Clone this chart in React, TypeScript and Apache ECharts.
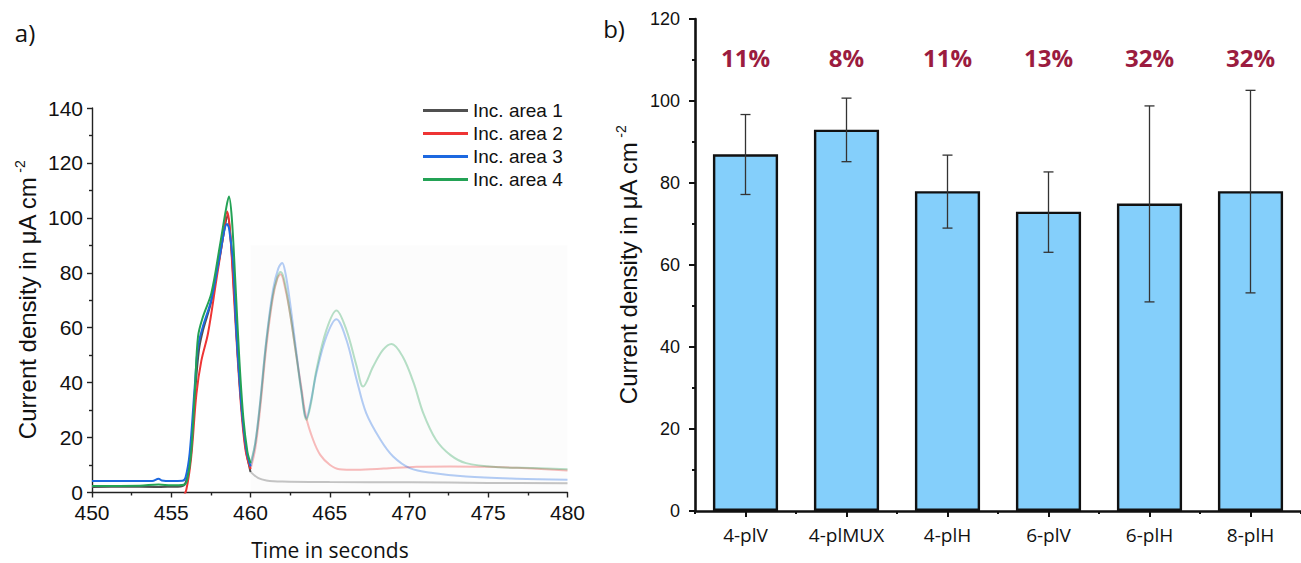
import React, { useEffect, useRef } from "react";
import * as echarts from "echarts";

// ---------- Panel a) : transients ----------
const seriesNames = ["Inc. area 1", "Inc. area 2", "Inc. area 3", "Inc. area 4"];
const lineColors = ["#505050", "#ee3434", "#1c68e0", "#23a255"];

const area1Main: number[][] = [
  [450, 2.0], [452, 2.1], [454, 2.0], [455, 2.1], [455.6, 2.2], [455.9, 3.5], [456.2, 12],
  [456.5, 36], [456.75, 52], [457.0, 59], [457.5, 69], [458.0, 84], [458.3, 94], [458.55, 100.8],
  [458.75, 92], [459.0, 70], [459.2, 50], [459.45, 30], [459.7, 16], [460.0, 7.5],
];
const area1Faded: number[][] = [
  [460.0, 7.5], [460.5, 5.2], [461.0, 4.4], [462, 4.0], [465, 3.8], [470, 3.7], [475, 3.5], [480, 3.4],
];
const area2Main: number[][] = [
  [450, -3], [455.5, -3], [455.7, -2], [455.95, 1], [456.26, 13], [456.59, 36], [456.9, 48],
  [457.32, 58], [457.85, 77.5], [458.27, 93], [458.52, 102.3], [458.7, 96], [458.95, 72],
  [459.2, 48], [459.45, 28], [459.7, 15], [460.0, 8.5],
];
const area2Faded: number[][] = [
  [460.0, 8.5], [460.3, 16], [460.6, 30], [461.0, 53], [461.4, 70.5], [461.7, 78], [461.9, 79.5],
  [462.2, 74], [462.5, 65], [462.9, 49.5], [463.2, 38.6], [463.5, 27.7], [463.95, 19.2],
  [464.4, 13.7], [465.0, 10.1], [465.6, 8.5], [466.7, 8.3], [468.4, 8.7], [470.5, 9.4],
  [472.6, 9.5], [474.7, 9.4], [476.8, 9.0], [480, 8.0],
];
const area3Main: number[][] = [
  [450, 4.2], [453.8, 4.2], [454.2, 5.0], [454.4, 4.4], [455.0, 4.2], [455.7, 4.3], [455.9, 5.5],
  [456.16, 14.3], [456.48, 38.6], [456.69, 53.2], [457.0, 60.5], [457.53, 70.2], [458.06, 86],
  [458.52, 97.8], [458.65, 96], [458.9, 83.5], [459.1, 59.2], [459.43, 31.3], [459.74, 15.5],
  [460.0, 9.5],
];
const area3Faded: number[][] = [
  [460.0, 9.5], [460.3, 18], [460.58, 31.3], [461.0, 55.6], [461.42, 73.8], [461.75, 81.5],
  [462.0, 83.6], [462.2, 80], [462.47, 70.2], [462.9, 50.8], [463.2, 37.4], [463.53, 27.1],
  [463.8, 33], [464.16, 43.5], [464.79, 56.8], [465.42, 63.1], [466.05, 55.6], [466.7, 41],
  [467.3, 28.9], [468.2, 19.2], [469.0, 13.1], [470.05, 8.9], [471.5, 7.1], [473.6, 5.8],
  [476.8, 5.0], [480, 4.6],
];
const area4Main: number[][] = [
  [450, 2.4], [453, 2.5], [454.2, 2.9], [455.0, 2.6], [455.8, 2.8], [456.0, 4.5], [456.25, 14],
  [456.5, 38], [456.69, 56.8], [457.0, 64], [457.53, 72.6], [458.06, 89.6], [458.45, 103],
  [458.64, 107.8], [458.82, 100], [459.05, 76], [459.3, 48], [459.55, 27], [459.8, 15],
  [460.0, 10.7],
];
const area4Faded: number[][] = [
  [460.0, 10.7], [460.3, 18], [460.6, 32], [461.0, 55], [461.4, 71.5], [461.7, 78.5],
  [461.9, 80.3], [462.1, 78], [462.45, 67], [462.9, 49.5], [463.2, 37], [463.53, 26.5],
  [463.8, 32], [464.16, 44.7], [464.79, 59.2], [465.42, 66.3], [466.05, 59.2], [466.7, 45.9],
  [467.1, 38.6], [467.74, 45.9], [468.37, 52], [468.9, 54.1], [469.6, 49.5], [470.3, 39.8],
  [470.9, 28.9], [471.7, 19.2], [472.6, 13.7], [473.6, 10.7], [475.7, 9.2], [477.8, 8.9],
  [480, 8.5],
];
const mainData = [area1Main, area2Main, area3Main, area4Main];
const fadedData = [area1Faded, area2Faded, area3Faded, area4Faded];

// ---------- Panel b) : bars ----------
const barCategories = ["4-plV", "4-plMUX", "4-plH", "6-plV", "6-plH", "8-plH"];
const barValues = [87, 93, 78, 73, 75, 78];
const errLow = [77.2, 85.2, 69, 63.1, 51, 53.2];
const errHigh = [96.7, 100.7, 86.8, 82.7, 98.8, 102.6];
const pctLabels = ["11%", "8%", "11%", "13%", "32%", "32%"];
const pctLabelLevel = 110.7;

const ARIAL = '"Liberation Sans", Arial, sans-serif';
const OPEN = '"Open Sans", "Noto Sans", sans-serif';

export default function App() {
  const ref = useRef<HTMLDivElement>(null);

  useEffect(() => {
    if (!ref.current) return;
    const chart = echarts.init(ref.current, undefined, { renderer: "svg" });

    const lineSeries: any[] = [];
    seriesNames.forEach((name, i) => {
      lineSeries.push({
        name,
        type: "line",
        xAxisIndex: 0,
        yAxisIndex: 0,
        data: mainData[i],
        showSymbol: false,
        symbol: "none",
        smooth: 0.35,
        color: lineColors[i],
        lineStyle: { width: 2, color: lineColors[i] },
        itemStyle: { color: lineColors[i] },
        z: 3 + i,
      });
    });
    seriesNames.forEach((name, i) => {
      const s: any = {
        name: name + " (faded)",
        type: "line",
        xAxisIndex: 0,
        yAxisIndex: 0,
        data: fadedData[i],
        showSymbol: false,
        symbol: "none",
        smooth: 0.35,
        lineStyle: { width: 2, color: lineColors[i], opacity: 0.33 },
        itemStyle: { color: lineColors[i] },
        z: 2,
      };
      if (i === 0) {
        s.markArea = {
          silent: true,
          itemStyle: { color: "rgba(0,0,0,0.012)" },
          data: [[{ xAxis: 460, yAxis: 0 }, { xAxis: 480, yAxis: 90 }]],
        };
      }
      lineSeries.push(s);
    });

    const richTitle = {
      a: { fontFamily: ARIAL, fontSize: 24, fill: "#111", color: "#111", lineHeight: 28 },
      s: { fontFamily: ARIAL, fontSize: 14, fill: "#111", color: "#111", lineHeight: 14, verticalAlign: "top" },
    };

    const option: any = {
      animation: false,
      backgroundColor: "#ffffff",
      grid: [
        { left: 92, top: 108, width: 475.5, height: 384.5, containLabel: false },
        { left: 695, top: 19, width: 613, height: 492, containLabel: false },
      ],
      legend: {
        data: seriesNames,
        orient: "vertical",
        left: 418,
        top: 96,
        icon: "rect",
        itemWidth: 45,
        itemHeight: 3,
        itemGap: 4,
        textStyle: { fontFamily: ARIAL, fontSize: 19, color: "#111", lineHeight: 19 },
        selectedMode: false,
      },
      xAxis: [
        {
          type: "value",
          gridIndex: 0,
          min: 450,
          max: 480,
          interval: 5,
          axisLine: { show: true, onZero: false, lineStyle: { color: "#222", width: 1.4 } },
          axisTick: { show: true, length: 5, lineStyle: { color: "#222", width: 1.4 } },
          minorTick: { show: true, splitNumber: 2, length: 3, lineStyle: { color: "#222", width: 1.4 } },
          splitLine: { show: false },
          axisLabel: { fontFamily: ARIAL, fontSize: 21, color: "#111", margin: 12, lineHeight: 16 },
        },
        {
          type: "category",
          gridIndex: 1,
          data: barCategories,
          position: "bottom",
          axisLine: { show: true, lineStyle: { color: "#111", width: 2.6 } },
          axisTick: { show: true, alignWithLabel: true, length: 6, lineStyle: { color: "#111", width: 2 } },
          axisLabel: { fontFamily: OPEN, fontSize: 19, color: "#111", margin: 14 },
          splitLine: { show: false },
        },
        {
          type: "category",
          gridIndex: 1,
          data: barCategories,
          position: "bottom",
          axisLine: { show: false },
          axisTick: { show: true, alignWithLabel: false, length: 3, lineStyle: { color: "#111", width: 2 } },
          axisLabel: { show: false },
          splitLine: { show: false },
        },
      ],
      yAxis: [
        {
          type: "value",
          gridIndex: 0,
          min: 0,
          max: 140,
          interval: 20,
          axisLine: { show: true, onZero: false, lineStyle: { color: "#222", width: 1.4 } },
          axisTick: { show: true, length: 5, lineStyle: { color: "#222", width: 1.4 } },
          minorTick: { show: true, splitNumber: 2, length: 3, lineStyle: { color: "#222", width: 1.4 } },
          splitLine: { show: false },
          axisLabel: { fontFamily: ARIAL, fontSize: 21, color: "#111", margin: 9, lineHeight: 16 },
        },
        {
          type: "value",
          gridIndex: 1,
          min: 0,
          max: 120,
          interval: 20,
          axisLine: { show: true, onZero: false, lineStyle: { color: "#111", width: 2.6 } },
          axisTick: { show: true, length: 6, lineStyle: { color: "#111", width: 2 } },
          minorTick: { show: true, splitNumber: 2, length: 3, lineStyle: { color: "#111", width: 2 } },
          splitLine: { show: false },
          axisLabel: { fontFamily: ARIAL, fontSize: 18, color: "#111", margin: 15 },
        },
      ],
      graphic: [
        {
          type: "text",
          x: 25,
          y: 32,
          style: { text: "a)", font: `24px ${OPEN}`, fill: "#111", align: "center", verticalAlign: "middle" },
        },
        {
          type: "text",
          x: 614,
          y: 28,
          style: { text: "b)", font: `24px ${OPEN}`, fill: "#111", align: "center", verticalAlign: "middle" },
        },
        {
          type: "text",
          x: 330,
          y: 550,
          style: { text: "Time in seconds", font: `21px ${OPEN}`, fill: "#111", align: "center", verticalAlign: "middle" },
        },
        {
          type: "text",
          x: 27,
          y: 300,
          rotation: Math.PI / 2,
          style: {
            text: "{a|Current density in μA cm}{s| -2}",
            align: "center",
            verticalAlign: "middle",
            rich: richTitle,
          },
        },
        {
          type: "text",
          x: 628,
          y: 265,
          rotation: Math.PI / 2,
          style: {
            text: "{a|Current density in μA cm}{s| -2}",
            align: "center",
            verticalAlign: "middle",
            rich: richTitle,
          },
        },
      ],
      series: [
        ...lineSeries,
        {
          name: "bars",
          type: "bar",
          xAxisIndex: 1,
          yAxisIndex: 1,
          data: barValues,
          barWidth: "64.5%",
          itemStyle: { color: "#84cffb", borderColor: "#111", borderWidth: 2.4 },
          z: 2,
        },
        {
          name: "errors",
          type: "custom",
          xAxisIndex: 1,
          yAxisIndex: 1,
          data: barCategories.map((_, i) => [i, errLow[i], errHigh[i]]),
          z: 5,
          renderItem: (params: any, api: any) => {
            const idx = api.value(0);
            const lo = api.coord([idx, api.value(1)]);
            const hi = api.coord([idx, api.value(2)]);
            const cap = 5;
            const st = { stroke: "#333", lineWidth: 1.3 };
            return {
              type: "group",
              children: [
                { type: "line", shape: { x1: hi[0], y1: hi[1], x2: lo[0], y2: lo[1] }, style: st },
                { type: "line", shape: { x1: hi[0] - cap, y1: hi[1], x2: hi[0] + cap, y2: hi[1] }, style: st },
                { type: "line", shape: { x1: lo[0] - cap, y1: lo[1], x2: lo[0] + cap, y2: lo[1] }, style: st },
              ],
            };
          },
        },
        {
          name: "percent",
          type: "custom",
          xAxisIndex: 1,
          yAxisIndex: 1,
          data: barCategories.map((_, i) => [i, pctLabelLevel]),
          z: 6,
          renderItem: (params: any, api: any) => {
            const p = api.coord([api.value(0), api.value(1)]);
            return {
              type: "text",
              x: p[0],
              y: p[1],
              style: {
                text: pctLabels[params.dataIndex],
                font: `bold 24px ${OPEN}`,
                fill: "#9b1c3f",
                align: "center",
                verticalAlign: "middle",
              },
            };
          },
        },
      ],
    };

    chart.setOption(option);
    return () => chart.dispose();
  }, []);

  return (
    <div
      ref={ref}
      style={{ position: "fixed", left: 0, top: 0, width: 1301, height: 563, background: "#fff" }}
    />
  );
}
